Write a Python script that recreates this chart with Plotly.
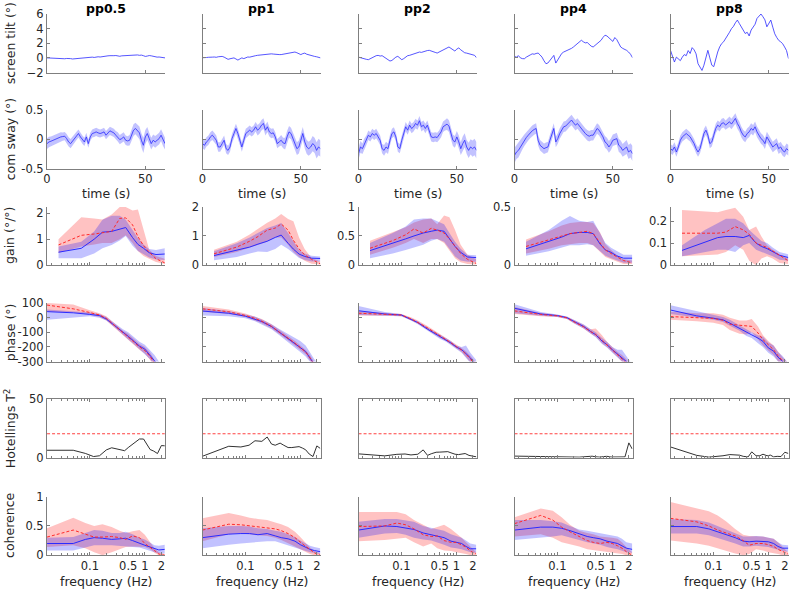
import numpy as np
import plotly.graph_objects as go

# ---------------- data ----------------
PP = ["pp0.5", "pp1", "pp2", "pp4", "pp8"]
T = list(range(0, 61))  # time (s)

TILT_1 = [0.0, -0.02, 0.03, -0.01, -0.05, -0.08, -0.1, -0.06, -0.1, -0.12, -0.08,
          -0.05, -0.1, -0.15, -0.12, -0.08, -0.05, -0.1, -0.05, 0.0, 0.05,
          0.02, 0.08, 0.1, 0.06, 0.12, 0.15, 0.12, 0.18, 0.2, 0.25,
          0.28, 0.3, 0.35, 0.3, 0.32, 0.25, 0.22, 0.28, 0.3, 0.25,
          0.3, 0.35, 0.38, 0.42, 0.45, 0.4, 0.35, 0.38, 0.3, 0.2,
          0.25, 0.32, 0.28, 0.2, 0.15, 0.1, 0.12, 0.08, 0.05, 0.0]
TILT_2 = [0.02, 0.0, 0.05, 0.08, 0.05, 0.1, 0.12, 0.08, 0.15, 0.18, 0.2,
          0.1, -0.05, -0.2, -0.12, -0.05, 0.0, -0.15, -0.3, -0.15, 0.0,
          -0.1, 0.05, 0.12, 0.1, 0.2, 0.25, 0.3, 0.35, 0.38, 0.45,
          0.42, 0.5, 0.55, 0.5, 0.55, 0.52, 0.48, 0.4, 0.45, 0.45,
          0.5, 0.48, 0.55, 0.62, 0.7, 0.75, 0.8, 0.7, 0.55, 0.45,
          0.58, 0.65, 0.5, 0.4, 0.3, 0.28, 0.2, 0.15, 0.08, 0.0]
TILT_3 = [0.1, 0.0, -0.1, -0.15, -0.2, -0.25, -0.1, 0.05, 0.2, 0.3, 0.34,
          0.25, 0.3, 0.1, -0.1, -0.3, -0.43, -0.35, -0.1, 0.1, 0.21,
          0.0, -0.25, -0.1, 0.15, 0.3, 0.35, 0.45, 0.5, 0.6, 0.7,
          0.8, 0.75, 0.85, 0.95, 1.0, 1.03, 0.9, 0.85, 0.75, 0.66,
          0.8, 0.95, 1.1, 1.2, 1.35, 1.49, 1.3, 1.1, 0.94, 1.2,
          1.36, 1.1, 0.9, 0.7, 0.65, 0.6, 0.55, 0.48, 0.35, 0.02]
TILT_4 = [0.2, 0.1, 0.3, 0.0, -0.1, -0.12, 0.1, 0.3, 0.4, 0.55, 0.5,
          0.6, 0.66, 0.4, 0.1, -0.4, -0.8, -0.7, -0.3, 0.1, 0.34,
          -0.71, -0.2, 0.3, 0.6, 0.8, 0.9, 1.0, 1.13, 1.3, 1.5,
          1.7, 1.9, 2.2, 2.41, 2.2, 2.05, 2.1, 1.8, 1.6, 1.49,
          1.7, 1.9, 2.18, 2.4, 2.8, 3.1, 3.0, 2.78, 2.5, 2.25,
          2.78, 2.5, 2.0, 1.49, 1.3, 1.2, 1.03, 0.8, 0.5, 0.02]
TILT_5 = [1.03, 0.34, -0.57, 0.1, -0.2, -0.38, 0.1, 0.45, 0.3, 1.0, 0.6,
          1.4, 1.1, 0.55, -0.8, -1.2, -1.72, -1.0, -0.1, 1.03, 0.0,
          -1.0, -1.2, 0.0, 0.8, 1.5, 1.95, 2.2, 2.6, 3.0, 3.5,
          4.0, 4.3, 4.8, 5.17, 4.7, 4.25, 3.9, 3.33, 3.5, 3.0,
          3.8, 4.2, 4.6, 5.4, 5.7, 6.0, 5.63, 5.2, 4.25, 4.8,
          5.17, 4.2, 3.3, 2.8, 2.4, 2.2, 1.95, 1.5, 1.0, -0.1]

SWAY_1 = [-0.075, -0.046, -0.034, -0.017, 0.0, 0.011, 0.029, 0.04, 0.046, 0.052, 0.011,
          -0.046, -0.075, -0.029, 0.011, 0.057, 0.098, 0.04, -0.006, -0.046, 0.04,
          -0.075, 0.04, 0.098, 0.109, 0.126, 0.109, 0.098, 0.109, 0.126, 0.069,
          0.109, 0.144, 0.126, 0.109, 0.069, 0.04, -0.006, 0.011, 0.04, -0.017,
          -0.029, -0.017, 0.069, 0.155, 0.184, 0.144, 0.109, -0.017, -0.103, 0.04,
          0.098, 0.011, -0.075, -0.017, -0.046, -0.017, 0.011, 0.069, -0.017, -0.075]
SWAY_2 = [-0.075, -0.103, -0.046, -0.017, 0.04, 0.069, 0.029, -0.017, -0.132, -0.132, -0.075,
          -0.017, -0.161, -0.19, -0.132, 0.011, 0.098, 0.184, 0.098, -0.017, -0.132,
          -0.017, 0.098, 0.126, 0.155, 0.126, 0.155, 0.213, 0.155, 0.184, 0.241,
          0.27, 0.155, 0.213, 0.126, 0.098, 0.109, 0.04, -0.075, -0.046, -0.017,
          -0.063, -0.075, 0.04, 0.126, 0.098, 0.011, -0.075, -0.161, -0.132, -0.017,
          0.098, -0.046, -0.132, -0.161, -0.132, -0.075, -0.103, -0.19, -0.132, -0.161]
SWAY_3 = [-0.247, -0.132, -0.161, -0.075, -0.017, 0.069, 0.04, 0.098, 0.069, 0.098, 0.04,
          -0.017, -0.161, -0.19, -0.132, -0.161, -0.017, 0.098, 0.126, 0.04, -0.132,
          -0.161, -0.017, 0.098, 0.213, 0.155, 0.241, 0.184, 0.213, 0.27, 0.241,
          0.316, 0.213, 0.241, 0.184, 0.241, 0.155, 0.04, 0.029, 0.04, 0.029,
          0.069, 0.126, 0.213, 0.241, 0.259, 0.224, 0.098, -0.017, -0.046, 0.04,
          -0.046, -0.161, -0.075, -0.017, -0.132, -0.19, -0.132, -0.161, -0.132, -0.19]
SWAY_4 = [-0.276, -0.218, -0.19, -0.132, -0.075, -0.017, 0.029, 0.069, 0.109, 0.144, 0.167,
          0.184, -0.017, -0.103, -0.132, -0.161, -0.144, -0.132, -0.017, 0.098, 0.184,
          -0.046, 0.011, 0.098, 0.155, 0.213, 0.224, 0.259, 0.299, 0.328, 0.282,
          0.241, 0.27, 0.224, 0.184, 0.144, 0.098, 0.069, 0.052, 0.069, 0.069,
          0.126, 0.184, 0.155, 0.098, 0.04, -0.046, -0.075, -0.132, -0.086, -0.017,
          -0.006, 0.011, -0.103, -0.132, -0.19, -0.161, -0.132, -0.218, -0.19, -0.247]
SWAY_5 = [-0.161, -0.19, -0.132, -0.218, -0.132, -0.017, 0.04, 0.069, 0.098, 0.069, 0.04,
          -0.017, -0.075, -0.161, -0.218, -0.161, -0.046, 0.098, 0.155, 0.069, -0.075,
          -0.046, 0.069, 0.184, 0.241, 0.213, 0.27, 0.282, 0.241, 0.27, 0.299,
          0.259, 0.316, 0.356, 0.27, 0.213, 0.126, 0.069, 0.04, 0.098, 0.126,
          0.184, 0.155, 0.213, 0.126, 0.069, 0.011, -0.017, -0.075, 0.04, -0.017,
          -0.075, -0.132, -0.103, -0.075, -0.161, -0.132, -0.19, -0.218, -0.161, -0.19]

SWAY_SD_1 = [0.09, 0.09, 0.08, 0.08, 0.08, 0.08, 0.08, 0.08, 0.07, 0.07, 0.08,
             0.08, 0.08, 0.07, 0.07, 0.07, 0.07, 0.07, 0.07, 0.07, 0.07,
             0.07, 0.07, 0.07, 0.07, 0.07, 0.07, 0.07, 0.07, 0.07, 0.07,
             0.07, 0.07, 0.07, 0.07, 0.07, 0.08, 0.08, 0.08, 0.08, 0.08,
             0.08, 0.09, 0.09, 0.1, 0.1, 0.1, 0.11, 0.12, 0.13, 0.12,
             0.11, 0.1, 0.1, 0.1, 0.1, 0.1, 0.1, 0.1, 0.1, 0.1]
SWAY_SD_2 = [0.08, 0.08, 0.08, 0.08, 0.08, 0.08, 0.08, 0.08, 0.08, 0.08, 0.08,
             0.08, 0.08, 0.08, 0.08, 0.08, 0.08, 0.08, 0.08, 0.08, 0.08,
             0.08, 0.08, 0.08, 0.08, 0.08, 0.08, 0.08, 0.09, 0.09, 0.09,
             0.09, 0.09, 0.09, 0.08, 0.08, 0.08, 0.08, 0.08, 0.08, 0.09,
             0.09, 0.1, 0.1, 0.1, 0.1, 0.1, 0.11, 0.11, 0.11, 0.11,
             0.11, 0.11, 0.12, 0.12, 0.12, 0.13, 0.13, 0.14, 0.14, 0.14]
SWAY_SD_3 = [0.1, 0.1, 0.09, 0.09, 0.08, 0.08, 0.08, 0.08, 0.08, 0.08, 0.08,
             0.08, 0.08, 0.09, 0.09, 0.09, 0.09, 0.08, 0.08, 0.08, 0.08,
             0.08, 0.08, 0.08, 0.08, 0.08, 0.08, 0.08, 0.08, 0.08, 0.08,
             0.08, 0.08, 0.08, 0.08, 0.08, 0.08, 0.08, 0.08, 0.08, 0.08,
             0.08, 0.09, 0.09, 0.09, 0.1, 0.1, 0.1, 0.1, 0.1, 0.1,
             0.11, 0.11, 0.12, 0.12, 0.12, 0.13, 0.13, 0.14, 0.14, 0.14]
SWAY_SD_4 = [0.13, 0.12, 0.12, 0.11, 0.1, 0.1, 0.09, 0.09, 0.09, 0.09, 0.09,
             0.09, 0.09, 0.09, 0.09, 0.09, 0.09, 0.09, 0.09, 0.09, 0.09,
             0.09, 0.09, 0.09, 0.09, 0.09, 0.09, 0.09, 0.09, 0.09, 0.09,
             0.09, 0.09, 0.09, 0.09, 0.09, 0.09, 0.09, 0.09, 0.09, 0.09,
             0.09, 0.09, 0.09, 0.09, 0.09, 0.1, 0.1, 0.1, 0.1, 0.1,
             0.1, 0.1, 0.11, 0.11, 0.11, 0.12, 0.12, 0.12, 0.12, 0.13]
SWAY_SD_5 = [0.08, 0.08, 0.08, 0.08, 0.08, 0.08, 0.08, 0.08, 0.08, 0.08, 0.08,
             0.08, 0.08, 0.08, 0.08, 0.08, 0.08, 0.08, 0.08, 0.08, 0.08,
             0.08, 0.08, 0.08, 0.08, 0.08, 0.08, 0.08, 0.08, 0.09, 0.09,
             0.09, 0.09, 0.09, 0.09, 0.09, 0.09, 0.09, 0.09, 0.09, 0.09,
             0.09, 0.09, 0.09, 0.09, 0.09, 0.09, 0.09, 0.09, 0.09, 0.09,
             0.09, 0.09, 0.09, 0.09, 0.09, 0.09, 0.09, 0.09, 0.09, 0.09]

# frequency grids (Hz)
F_GAIN = [0.027, 0.07, 0.12, 0.17, 0.25, 0.35, 0.45, 0.6, 0.75, 0.95, 1.2, 1.6, 2.3]
F_PHASE = [0.0167, 0.05, 0.1, 0.15, 0.2, 0.3, 0.4, 0.5, 0.65, 0.8, 1.0, 1.25, 1.5, 1.8, 2.3]
F_HOT = [0.0167, 0.05, 0.083, 0.117, 0.15, 0.2, 0.25, 0.3, 0.35, 0.43, 0.5,
         0.6, 0.7, 0.8, 0.95, 1.1, 1.25, 1.45, 1.7, 2.0, 2.3]
F_COH = [0.0167, 0.05, 0.083, 0.12, 0.17, 0.25, 0.35, 0.45, 0.6, 0.8, 1.0, 1.25, 1.5, 1.8, 2.3]

# gain (deg/deg): blue = mean/lo/hi, red = mean/lo/hi
GAIN_B_1 = [0.50, 0.65, 1.0, 1.27, 1.30, 1.38, 1.45, 1.06, 0.80, 0.65, 0.48, 0.41, 0.43]
GAIN_B_LO_1 = [0.27, 0.27, 0.45, 0.65, 0.78, 0.95, 1.12, 0.75, 0.55, 0.42, 0.30, 0.22, 0.20]
GAIN_B_HI_1 = [0.72, 0.90, 1.30, 1.75, 1.90, 1.90, 1.75, 1.35, 1.05, 0.80, 0.62, 0.58, 0.65]
GAIN_R_1 = [0.78, 1.15, 1.20, 1.26, 1.30, 1.80, 1.82, 1.55, 1.10, 0.75, 0.50, 0.25, 0.09]
GAIN_R_LO_1 = [0.47, 0.72, 0.80, 0.85, 0.85, 1.00, 1.15, 0.85, 0.55, 0.35, 0.25, 0.12, 0.05]
GAIN_R_HI_1 = [1.00, 1.84, 1.80, 1.76, 1.95, 2.24, 2.24, 2.10, 2.14, 1.40, 0.60, 0.35, 0.25]

GAIN_B_2 = [0.33, 0.50, 0.62, 0.72, 0.82, 0.95, 1.03, 0.75, 0.55, 0.38, 0.30, 0.24, 0.23]
GAIN_B_LO_2 = [0.17, 0.28, 0.40, 0.47, 0.45, 0.55, 0.70, 0.55, 0.40, 0.25, 0.18, 0.13, 0.13]
GAIN_B_HI_2 = [0.48, 0.75, 0.95, 1.10, 1.27, 1.36, 1.44, 1.10, 0.80, 0.52, 0.40, 0.32, 0.30]
GAIN_R_2 = [0.39, 0.62, 0.82, 0.98, 1.20, 1.27, 1.41, 1.20, 0.85, 0.56, 0.35, 0.20, 0.05]
GAIN_R_LO_2 = [0.28, 0.45, 0.60, 0.70, 0.80, 0.95, 0.95, 0.70, 0.45, 0.28, 0.15, 0.05, 0.02]
GAIN_R_HI_2 = [0.53, 0.80, 1.05, 1.25, 1.45, 1.60, 1.75, 1.58, 1.50, 0.95, 0.55, 0.25, 0.13]

GAIN_B_3 = [0.25, 0.37, 0.45, 0.50, 0.55, 0.58, 0.60, 0.58, 0.45, 0.32, 0.22, 0.14, 0.13]
GAIN_B_LO_3 = [0.12, 0.20, 0.26, 0.30, 0.35, 0.42, 0.45, 0.40, 0.28, 0.15, 0.08, 0.06, 0.06]
GAIN_B_HI_3 = [0.38, 0.55, 0.66, 0.78, 0.80, 0.80, 0.75, 0.70, 0.55, 0.40, 0.28, 0.18, 0.17]
GAIN_R_3 = [0.29, 0.42, 0.52, 0.62, 0.55, 0.63, 0.60, 0.55, 0.45, 0.33, 0.20, 0.10, 0.03]
GAIN_R_LO_3 = [0.18, 0.30, 0.38, 0.45, 0.38, 0.45, 0.45, 0.38, 0.25, 0.12, 0.05, 0.02, 0.01]
GAIN_R_HI_3 = [0.42, 0.56, 0.65, 0.73, 0.78, 0.80, 0.70, 0.85, 0.82, 0.60, 0.35, 0.18, 0.10]

GAIN_B_4 = [0.14, 0.20, 0.24, 0.27, 0.28, 0.28, 0.27, 0.18, 0.13, 0.11, 0.08, 0.06, 0.06]
GAIN_B_LO_4 = [0.08, 0.12, 0.15, 0.17, 0.17, 0.18, 0.17, 0.12, 0.08, 0.06, 0.04, 0.02, 0.02]
GAIN_B_HI_4 = [0.20, 0.30, 0.38, 0.42, 0.38, 0.37, 0.38, 0.28, 0.19, 0.15, 0.12, 0.09, 0.09]
GAIN_R_4 = [0.16, 0.22, 0.25, 0.27, 0.28, 0.29, 0.27, 0.19, 0.13, 0.10, 0.07, 0.04, 0.02]
GAIN_R_LO_4 = [0.10, 0.14, 0.17, 0.18, 0.19, 0.19, 0.17, 0.11, 0.07, 0.05, 0.03, 0.01, 0.01]
GAIN_R_HI_4 = [0.22, 0.29, 0.34, 0.36, 0.37, 0.37, 0.36, 0.28, 0.18, 0.13, 0.09, 0.05, 0.04]

GAIN_B_5 = [0.067, 0.105, 0.125, 0.13, 0.13, 0.125, 0.135, 0.10, 0.085, 0.075, 0.06, 0.045, 0.035]
GAIN_B_LO_5 = [0.04, 0.06, 0.07, 0.07, 0.06, 0.09, 0.10, 0.07, 0.06, 0.05, 0.04, 0.025, 0.02]
GAIN_B_HI_5 = [0.09, 0.16, 0.19, 0.21, 0.21, 0.19, 0.16, 0.13, 0.11, 0.10, 0.08, 0.06, 0.05]
GAIN_R_5 = [0.145, 0.145, 0.145, 0.15, 0.175, 0.16, 0.14, 0.10, 0.09, 0.08, 0.065, 0.045, 0.02]
GAIN_R_LO_5 = [0.04, 0.045, 0.048, 0.06, 0.09, 0.07, 0.02, 0.0, 0.03, 0.04, 0.03, 0.01, 0.005]
GAIN_R_HI_5 = [0.25, 0.245, 0.24, 0.25, 0.26, 0.22, 0.16, 0.175, 0.13, 0.09, 0.07, 0.05, 0.03]

# phase (deg)
PH_B_1 = [41, 33, 22, 14, -10, -60, -100, -128, -165, -195, -215, -255, -295, -340, -400]
PH_B_LO_1 = [-15, 0, 10, 0, -20, -75, -120, -150, -185, -220, -250, -285, -330, -370, -420]
PH_B_HI_1 = [55, 45, 35, 25, 5, -45, -80, -100, -135, -165, -185, -225, -255, -300, -350]
PH_R_1 = [86, 60, 35, 18, -5, -60, -105, -130, -170, -200, -225, -265, -310, -360, -420]
PH_R_LO_1 = [40, 35, 20, 5, -20, -75, -120, -150, -190, -220, -245, -290, -340, -390, -450]
PH_R_HI_1 = [100, 90, 50, 30, 10, -45, -90, -110, -150, -180, -200, -240, -290, -330, -380]

PH_B_2 = [45, 30, 10, -9, -27, -61, -95, -117, -150, -174, -205, -232, -275, -310, -380]
PH_B_LO_2 = [15, 10, -5, -25, -45, -80, -115, -140, -180, -205, -235, -265, -300, -340, -420]
PH_B_HI_2 = [65, 45, 22, 8, -12, -45, -75, -95, -120, -140, -160, -190, -240, -285, -330]
PH_R_2 = [60, 40, 15, -5, -25, -60, -95, -118, -150, -175, -205, -235, -275, -320, -390]
PH_R_LO_2 = [40, 25, 5, -18, -38, -75, -110, -135, -165, -190, -220, -250, -295, -340, -410]
PH_R_HI_2 = [80, 55, 28, 8, -10, -45, -78, -100, -132, -160, -190, -220, -255, -300, -370]

PH_B_3 = [47, 25, 18, -11, -34, -79, -106, -129, -151, -174, -201, -219, -246, -275, -330]
PH_B_LO_3 = [18, 12, 10, -20, -45, -90, -120, -145, -165, -190, -215, -240, -275, -310, -380]
PH_B_HI_3 = [80, 38, 25, -2, -25, -68, -95, -115, -138, -160, -190, -200, -190, -240, -290]
PH_R_3 = [30, 22, 18, -8, -32, -70, -100, -122, -148, -172, -198, -222, -250, -280, -340]
PH_R_LO_3 = [15, 12, 10, -18, -42, -82, -115, -138, -160, -185, -210, -235, -270, -305, -370]
PH_R_HI_3 = [45, 32, 25, 2, -20, -58, -88, -108, -135, -160, -185, -208, -230, -260, -310]

PH_B_4 = [64, 25, 14, 0, -26, -60, -94, -117, -160, -185, -219, -252, -275, -300, -360]
PH_B_LO_4 = [30, 12, 5, -10, -38, -75, -110, -135, -180, -205, -240, -275, -300, -330, -400]
PH_B_HI_4 = [92, 38, 22, 8, -14, -46, -78, -100, -140, -165, -200, -220, -220, -260, -320]
PH_R_4 = [46, 22, 12, -2, -28, -62, -95, -115, -155, -185, -220, -255, -280, -310, -380]
PH_R_LO_4 = [25, 10, 5, -10, -38, -75, -108, -130, -175, -200, -235, -270, -300, -335, -410]
PH_R_HI_4 = [72, 32, 20, 6, -16, -48, -80, -75, -120, -165, -200, -235, -255, -285, -340]

PH_B_5 = [52, 12, -4, -15, -38, -71, -99, -118, -140, -162, -207, -229, -270, -297, -350]
PH_B_LO_5 = [25, 0, -15, -30, -55, -90, -125, -140, -175, -200, -240, -265, -300, -335, -380]
PH_B_HI_5 = [85, 45, 20, 5, -15, -50, -80, -100, -120, -130, -170, -190, -235, -260, -310]
PH_R_5 = [7, 0, -5, -18, -45, -52, -55, -60, -105, -150, -185, -220, -260, -295, -340]
PH_R_LO_5 = [-15, -25, -35, -50, -85, -110, -115, -100, -150, -190, -225, -255, -300, -340, -380]
PH_R_HI_5 = [40, 30, 30, 20, 0, -20, -20, -10, -60, -120, -160, -190, -230, -270, -310]

# Hotelling's T^2 and its critical value
HOT_CRIT = 20.3
HOT_1 = [6.2, 6.2, 3.5, 0.8, 1.5, 6.5, 8.3, 7.5, 6.8, 5.8, 8.5, 11.5, 14, 15.8, 15.8, 11, 6.8, 5.5, 3.4, 10.2, 10]
HOT_2 = [1.1, 9.6, 9, 10.5, 14.3, 13.8, 17.5, 11.5, 10.5, 12.3, 10.5, 8.5, 8.5, 8.8, 9.3, 8, 6.6, 3, 0.8, 9.9, 7.8]
HOT_3 = [3.1, 1.4, 2.7, 3.0, 2.2, 2.8, 6.5, 1.8, 3.2, 4.5, 4.6, 4.9, 5, 4, 2.8, 2.5, 3, 3.4, 1.8, 0.8, 0.6]
HOT_4 = [1.2, 0.6, 0.4, 0.3, 0.2, 0.1, 0.3, 0.6, 1.0, 1.1, 0.6, 0.3, 0.8, 1.0, 0.4, 0.3, 0.2, 0.3, 0.5, 12.5, 7.3]
HOT_5 = [9.0, 1.8, 0.3, 0.8, 1.5, 2.5, 2.5, 2.0, 1.0, 0.5, 4.8, 1.5, 1.5, 2.8, 1.5, 2.0, 0.5, 1.0, 0.8, 4.5, 3.5]

# coherence
COH_B_1 = [0.2, 0.2, 0.27, 0.3, 0.29, 0.27, 0.28, 0.29, 0.25, 0.2, 0.17, 0.14, 0.11, 0.09, 0.1]
COH_B_LO_1 = [0.08, 0.08, 0.13, 0.17, 0.17, 0.17, 0.16, 0.15, 0.14, 0.13, 0.1, 0.07, 0.05, 0.03, 0.03]
COH_B_HI_1 = [0.3, 0.31, 0.38, 0.43, 0.42, 0.38, 0.38, 0.4, 0.36, 0.3, 0.27, 0.22, 0.17, 0.16, 0.18]
COH_R_1 = [0.31, 0.43, 0.36, 0.31, 0.31, 0.32, 0.3, 0.27, 0.33, 0.3, 0.2, 0.14, 0.08, 0.02, 0.0]
COH_R_LO_1 = [0.14, 0.17, 0.12, 0.05, 0.0, 0.05, 0.1, 0.14, 0.15, 0.15, 0.14, 0.1, 0.04, 0.0, 0.0]
COH_R_HI_1 = [0.46, 0.64, 0.55, 0.5, 0.53, 0.48, 0.42, 0.38, 0.41, 0.43, 0.35, 0.22, 0.12, 0.05, 0.02]

COH_B_2 = [0.3, 0.36, 0.37, 0.37, 0.35, 0.37, 0.33, 0.3, 0.28, 0.24, 0.18, 0.13, 0.1, 0.08, 0.06]
COH_B_LO_2 = [0.12, 0.18, 0.2, 0.22, 0.23, 0.24, 0.24, 0.21, 0.18, 0.14, 0.1, 0.07, 0.05, 0.03, 0.02]
COH_B_HI_2 = [0.46, 0.5, 0.5, 0.49, 0.46, 0.45, 0.42, 0.4, 0.36, 0.31, 0.25, 0.2, 0.16, 0.14, 0.12]
COH_R_2 = [0.43, 0.53, 0.52, 0.5, 0.49, 0.47, 0.45, 0.42, 0.37, 0.3, 0.22, 0.15, 0.1, 0.04, 0.0]
COH_R_LO_2 = [0.24, 0.36, 0.37, 0.36, 0.34, 0.33, 0.3, 0.26, 0.21, 0.15, 0.1, 0.05, 0.02, 0.0, 0.0]
COH_R_HI_2 = [0.63, 0.72, 0.68, 0.64, 0.62, 0.6, 0.56, 0.53, 0.48, 0.4, 0.31, 0.2, 0.13, 0.07, 0.03]

COH_B_3 = [0.43, 0.5, 0.49, 0.46, 0.44, 0.38, 0.35, 0.32, 0.3, 0.24, 0.22, 0.2, 0.15, 0.11, 0.11]
COH_B_LO_3 = [0.3, 0.37, 0.38, 0.35, 0.3, 0.27, 0.25, 0.22, 0.18, 0.13, 0.12, 0.1, 0.08, 0.05, 0.04]
COH_B_HI_3 = [0.57, 0.62, 0.62, 0.6, 0.57, 0.5, 0.47, 0.45, 0.42, 0.36, 0.33, 0.3, 0.25, 0.2, 0.18]
COH_R_3 = [0.49, 0.5, 0.55, 0.52, 0.45, 0.35, 0.32, 0.33, 0.25, 0.22, 0.22, 0.18, 0.14, 0.07, 0.02]
COH_R_LO_3 = [0.24, 0.26, 0.28, 0.3, 0.22, 0.15, 0.2, 0.12, 0.08, 0.07, 0.05, 0.03, 0.02, 0.0, 0.0]
COH_R_HI_3 = [0.74, 0.74, 0.74, 0.7, 0.6, 0.52, 0.45, 0.48, 0.52, 0.45, 0.38, 0.3, 0.22, 0.14, 0.05]

COH_B_4 = [0.43, 0.48, 0.48, 0.46, 0.42, 0.36, 0.32, 0.3, 0.28, 0.24, 0.22, 0.2, 0.16, 0.12, 0.1]
COH_B_LO_4 = [0.26, 0.3, 0.32, 0.34, 0.3, 0.26, 0.22, 0.2, 0.18, 0.14, 0.12, 0.1, 0.08, 0.05, 0.04]
COH_B_HI_4 = [0.6, 0.6, 0.58, 0.56, 0.5, 0.44, 0.42, 0.4, 0.38, 0.35, 0.34, 0.32, 0.28, 0.22, 0.2]
COH_R_4 = [0.54, 0.68, 0.6, 0.48, 0.4, 0.32, 0.25, 0.22, 0.2, 0.22, 0.2, 0.16, 0.12, 0.06, 0.0]
COH_R_LO_4 = [0.32, 0.36, 0.3, 0.22, 0.18, 0.15, 0.1, 0.08, 0.06, 0.05, 0.04, 0.03, 0.02, 0.0, 0.0]
COH_R_HI_4 = [0.65, 0.8, 0.76, 0.65, 0.52, 0.42, 0.38, 0.36, 0.32, 0.31, 0.3, 0.28, 0.22, 0.14, 0.05]

COH_B_5 = [0.49, 0.49, 0.45, 0.4, 0.36, 0.3, 0.24, 0.23, 0.24, 0.24, 0.23, 0.2, 0.15, 0.12, 0.12]
COH_B_LO_5 = [0.37, 0.37, 0.34, 0.3, 0.25, 0.2, 0.15, 0.15, 0.16, 0.15, 0.14, 0.12, 0.09, 0.07, 0.06]
COH_B_HI_5 = [0.62, 0.6, 0.56, 0.5, 0.45, 0.38, 0.32, 0.32, 0.33, 0.32, 0.3, 0.28, 0.22, 0.18, 0.17]
COH_R_5 = [0.63, 0.57, 0.5, 0.43, 0.38, 0.33, 0.25, 0.17, 0.2, 0.2, 0.18, 0.15, 0.1, 0.06, 0.02]
COH_R_LO_5 = [0.25, 0.2, 0.16, 0.12, 0.08, 0.03, 0.0, 0.02, 0.1, 0.08, 0.05, 0.03, 0.02, 0.0, 0.0]
COH_R_HI_5 = [0.91, 0.8, 0.75, 0.68, 0.58, 0.45, 0.35, 0.33, 0.33, 0.32, 0.3, 0.28, 0.22, 0.14, 0.05]

# axis tick settings
GAIN_RANGE = [[0, 2.25], [0, 2.0], [0, 1.0], [0, 0.5], [0, 0.265]]
GAIN_TICKS = [[0, 1, 2], [0, 1, 2], [0, 0.5, 1], [0, 0.5], [0, 0.1, 0.2]]
FREQ_TICKS = [0.1, 0.5, 1, 2]
FREQ_TICKTEXT = ["0.1", "0.5", "1", "2"]
FREQ_MINOR = [0.02, 0.03, 0.04, 0.05, 0.06, 0.07, 0.08, 0.09, 0.2, 0.3, 0.4, 0.6, 0.7, 0.8, 0.9]

TILTS = [TILT_1, TILT_2, TILT_3, TILT_4, TILT_5]
SWAYS = [SWAY_1, SWAY_2, SWAY_3, SWAY_4, SWAY_5]
SWAY_SDS = [SWAY_SD_1, SWAY_SD_2, SWAY_SD_3, SWAY_SD_4, SWAY_SD_5]
GAINS = [(GAIN_B_1, GAIN_B_LO_1, GAIN_B_HI_1, GAIN_R_1, GAIN_R_LO_1, GAIN_R_HI_1),
         (GAIN_B_2, GAIN_B_LO_2, GAIN_B_HI_2, GAIN_R_2, GAIN_R_LO_2, GAIN_R_HI_2),
         (GAIN_B_3, GAIN_B_LO_3, GAIN_B_HI_3, GAIN_R_3, GAIN_R_LO_3, GAIN_R_HI_3),
         (GAIN_B_4, GAIN_B_LO_4, GAIN_B_HI_4, GAIN_R_4, GAIN_R_LO_4, GAIN_R_HI_4),
         (GAIN_B_5, GAIN_B_LO_5, GAIN_B_HI_5, GAIN_R_5, GAIN_R_LO_5, GAIN_R_HI_5)]
PHASES = [(PH_B_1, PH_B_LO_1, PH_B_HI_1, PH_R_1, PH_R_LO_1, PH_R_HI_1),
          (PH_B_2, PH_B_LO_2, PH_B_HI_2, PH_R_2, PH_R_LO_2, PH_R_HI_2),
          (PH_B_3, PH_B_LO_3, PH_B_HI_3, PH_R_3, PH_R_LO_3, PH_R_HI_3),
          (PH_B_4, PH_B_LO_4, PH_B_HI_4, PH_R_4, PH_R_LO_4, PH_R_HI_4),
          (PH_B_5, PH_B_LO_5, PH_B_HI_5, PH_R_5, PH_R_LO_5, PH_R_HI_5)]
HOTS = [HOT_1, HOT_2, HOT_3, HOT_4, HOT_5]
COHS = [(COH_B_1, COH_B_LO_1, COH_B_HI_1, COH_R_1, COH_R_LO_1, COH_R_HI_1),
        (COH_B_2, COH_B_LO_2, COH_B_HI_2, COH_R_2, COH_R_LO_2, COH_R_HI_2),
        (COH_B_3, COH_B_LO_3, COH_B_HI_3, COH_R_3, COH_R_LO_3, COH_R_HI_3),
        (COH_B_4, COH_B_LO_4, COH_B_HI_4, COH_R_4, COH_R_LO_4, COH_R_HI_4),
        (COH_B_5, COH_B_LO_5, COH_B_HI_5, COH_R_5, COH_R_LO_5, COH_R_HI_5)]

# ---------------- layout geometry & style ----------------
W, H = 790, 590
COL_LEFT = [47, 202.5, 358.5, 514.5, 670.5]
COL_W = 118
ROW_TOP = [14, 110, 206.7, 303, 399, 496.7]
ROW_H = 58.5
FONT = "DejaVu Sans"
TXT = "#262626"
AXC = "#7f7f7f"
BLUE = "#2b2bff"
RED = "#ff2a2a"
BLUE_FILL = "rgba(0,0,255,0.24)"
RED_FILL = "rgba(255,0,0,0.24)"
DASH = "3px,2px"
FREQ_RANGE = [float(np.log10(1 / 60)), float(np.log10(2.33))]

fig = go.Figure()


def ids(r, c):
    n = r * 5 + c + 1
    return ("x" if n == 1 else f"x{n}", "y" if n == 1 else f"y{n}",
            "xaxis" if n == 1 else f"xaxis{n}", "yaxis" if n == 1 else f"yaxis{n}")


def band(x, lo, hi, color, xa, ya):
    xs = list(x) + list(x)[::-1]
    ys = list(hi) + list(lo)[::-1]
    fig.add_trace(go.Scatter(x=xs, y=ys, mode="lines", fill="toself", fillcolor=color,
                             line=dict(width=0), xaxis=xa, yaxis=ya, hoverinfo="skip",
                             showlegend=False))


def line(x, y, color, xa, ya, width=1.0, dash=None):
    fig.add_trace(go.Scatter(x=list(x), y=list(y), mode="lines",
                             line=dict(color=color, width=width, dash=dash),
                             xaxis=xa, yaxis=ya, hoverinfo="skip", showlegend=False))


def base_axis():
    return dict(showline=True, linecolor=AXC, linewidth=1, ticks="inside", ticklen=3,
                tickcolor=AXC, tickwidth=1, showgrid=False, zeroline=False, automargin=False,
                tickfont=dict(family=FONT, size=11.5, color=TXT), fixedrange=True)


def freq_panel(data, f, xa, ya):
    b, blo, bhi, rm, rlo, rhi = data
    band(f, rlo, rhi, RED_FILL, xa, ya)
    band(f, blo, bhi, BLUE_FILL, xa, ya)
    line(f, b, BLUE, xa, ya, 1.0)
    line(f, rm, RED, xa, ya, 1.0, DASH)


layout_axes = {}
for r in range(6):
    for c in range(5):
        xa, ya, xk, yk = ids(r, c)
        x0 = COL_LEFT[c] / W
        x1 = (COL_LEFT[c] + COL_W) / W
        y1 = 1 - ROW_TOP[r] / H
        y0 = 1 - (ROW_TOP[r] + ROW_H) / H
        xd = base_axis()
        yd = base_axis()
        xd.update(domain=[x0, x1], anchor=ya)
        yd.update(domain=[y0, y1], anchor=xa)
        show_y = (c == 0)
        if r == 0:
            line(T, TILTS[c], BLUE, xa, ya, 0.8)
            xd.update(range=[0, 60], tickvals=[0, 50], showticklabels=False)
            yd.update(range=[-2, 6], tickvals=[-2, 0, 2, 4, 6], showticklabels=show_y)
        elif r == 1:
            m = SWAYS[c]
            sd = SWAY_SDS[c]
            lo = [a - s for a, s in zip(m, sd)]
            hi = [a + s for a, s in zip(m, sd)]
            band(T, lo, hi, BLUE_FILL, xa, ya)
            line(T, m, BLUE, xa, ya, 0.8)
            xd.update(range=[0, 60], tickvals=[0, 50], ticktext=["0", "50"], showticklabels=True)
            yd.update(range=[-0.5, 0.5], tickvals=[-0.5, 0, 0.5], ticktext=["-0.5", "0", "0.5"],
                      showticklabels=show_y)
        else:
            xd.update(type="log", range=FREQ_RANGE, tickvals=FREQ_TICKS, ticktext=FREQ_TICKTEXT,
                      showticklabels=(r == 5),
                      minor=dict(ticks="inside", ticklen=2, tickcolor=AXC, tickvals=FREQ_MINOR))
            if r == 2:
                freq_panel(GAINS[c], F_GAIN, xa, ya)
                yd.update(range=GAIN_RANGE[c], tickvals=GAIN_TICKS[c], showticklabels=True)
            elif r == 3:
                freq_panel(PHASES[c], F_PHASE, xa, ya)
                yd.update(range=[-300, 100], tickvals=[-300, -200, -100, 0, 100],
                          ticktext=["-300", "-200", "-100", "0", "100"], showticklabels=show_y)
            elif r == 4:
                line([F_HOT[0], F_HOT[-1]], [HOT_CRIT, HOT_CRIT], RED, xa, ya, 0.9, DASH)
                line(F_HOT, HOTS[c], "#1a1a1a", xa, ya, 0.9)
                yd.update(range=[0, 50], tickvals=[0, 50], showticklabels=show_y, mirror="ticks")
                xd.update(mirror="ticks")
            else:
                freq_panel(COHS[c], F_COH, xa, ya)
                yd.update(range=[0, 1], tickvals=[0, 0.5, 1], ticktext=["0", "0.5", "1"],
                          showticklabels=show_y)
        layout_axes[xk] = xd
        layout_axes[yk] = yd

annotations = []
for c, name in enumerate(PP):
    cx = (COL_LEFT[c] + COL_W / 2) / W
    annotations.append(dict(text=f"<b>{name}</b>", x=cx, y=1 - 8 / H, xref="paper", yref="paper",
                            showarrow=False, xanchor="center", yanchor="middle",
                            font=dict(family=FONT, size=12.5, color="black")))
    annotations.append(dict(text="time (s)", x=cx, y=1 - 193 / H, xref="paper", yref="paper",
                            showarrow=False, xanchor="center", yanchor="middle",
                            font=dict(family=FONT, size=12.5, color=TXT)))
    annotations.append(dict(text="frequency (Hz)", x=cx, y=1 - 581 / H, xref="paper", yref="paper",
                            showarrow=False, xanchor="center", yanchor="middle",
                            font=dict(family=FONT, size=12.5, color=TXT)))

YTITLES = ["screen tilt (°)", "com sway (°)", "gain (°/°)", "phase (°)",
           "Hotellings T<sup>2</sup>", "coherence"]
for r, t in enumerate(YTITLES):
    cy = 1 - (ROW_TOP[r] + ROW_H / 2) / H
    annotations.append(dict(text=t, x=10 / W, y=cy, xref="paper", yref="paper", textangle=-90,
                            showarrow=False, xanchor="center", yanchor="middle",
                            font=dict(family=FONT, size=12.5, color=TXT)))

fig.update_layout(template="none", width=W, height=H, margin=dict(l=0, r=0, t=0, b=0, pad=0),
                  paper_bgcolor="white", plot_bgcolor="white", showlegend=False,
                  font=dict(family=FONT, color=TXT),
                  annotations=annotations, **layout_axes)

# remove the browser's default 8px page margin so the figure fills the window exactly
fig.write_html("out.html",
               config={"displayModeBar": False, "staticPlot": True},
               post_script="document.body.style.margin='0px';"
                           "document.body.style.padding='0px';"
                           "document.body.style.overflow='hidden';")
